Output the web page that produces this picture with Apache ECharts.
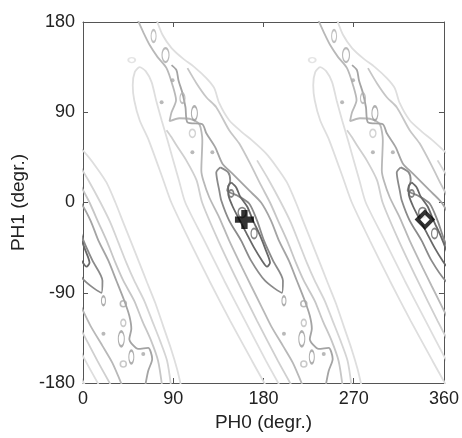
<!DOCTYPE html>
<html><head><meta charset="utf-8">
<script src="https://cdn.jsdelivr.net/npm/echarts/dist/echarts.min.js"></script>
<style>html,body{margin:0;padding:0;background:#fff}#c{width:462px;height:438px}</style>
</head><body><div id="c"></div>
<script>
// ---------- data (degrees) ----------
const xName = 'PH0 (degr.)';
const yName = 'PH1 (degr.)';
const xTicks = [0, 90, 180, 270, 360];
const yTicks = [-180, -90, 0, 90, 180];
// the surface repeats every 180 degrees along PH0: one valley is read, drawn at each repeat
const bandShifts = [-180, 0, 180];

const contourOuterLeft = [[182.5,-183],[168.6,-158],[146.8,-118],[126.0,-78],[106.1,-38],[88.1,0],[80.2,22],[65.6,62],[56.5,82],[51.1,102],[49.6,117],[51.6,130],[56.5,135],[62.5,131],[68.4,120],[72.9,102],[78.4,82],[84.3,62],[95.7,22],[102.0,0],[121.0,-38],[140.9,-78],[161.7,-118],[182.5,-158],[196.4,-183]];
const contourOuterRight = [[73.4,182],[79.4,167],[88.3,154],[99.2,144],[111.1,135],[123.0,124],[130.9,114],[135.9,99],[145.8,82],[158.7,70],[168.6,62],[182.5,49],[193.4,35],[203.4,20],[212.3,0],[220.2,-20],[228.2,-40],[236.1,-60],[244.0,-80],[252.0,-100],[259.9,-123],[267.8,-146],[273.8,-166],[277.8,-183]];
const contourSecondLeft = [[83.3,72],[88.3,65],[93.2,57],[103.0,42],[113.3,22],[118.8,0],[134.9,-38],[153.8,-78],[173.6,-118],[194.4,-158],[208.3,-183]];
const contourMidLeft = [[54.6,182],[60.5,169],[66.5,157],[74.4,145],[83.3,134],[89.3,117],[92.8,102],[88.3,90],[86.3,81],[96.2,84],[108.1,83],[116.1,78],[119.0,62],[118.0,32],[120.0,22],[126.0,5],[135.9,-15],[145.8,-38],[158.7,-65],[167.6,-83],[177.6,-103],[187.5,-123],[199.4,-143],[209.3,-160],[219.2,-183]];
const contourMidRight = [[88.3,137],[93.2,132],[95.2,122],[99.2,109],[102.2,95],[104.2,80],[119.0,78],[123.0,69],[131.9,55],[138.9,39],[148.8,29],[165.7,12],[177.6,0],[187.5,-18],[195.4,-38],[205.3,-58],[213.3,-78],[221.2,-98],[226.2,-113],[228.2,-126],[226.2,-136],[235.1,-146],[245.0,-145],[249.0,-156],[245.0,-168],[242.0,-183]];
const contourThirdRight = [[104.2,134],[113.1,119],[123.0,105],[132.9,95],[145.8,72],[155.7,59],[167.6,37],[177.6,17],[186.5,0],[195.4,-20],[204.4,-40],[212.3,-60],[220.2,-78],[231.1,-98],[239.1,-118],[248.0,-138],[254.9,-158],[258.9,-183]];
const contourSecondRight = [[173.6,42],[185.5,22],[197.4,0],[207.3,-20],[215.3,-40],[223.2,-60],[231.1,-78],[241.1,-98],[249.0,-118],[256.9,-138],[263.9,-158],[267.8,-183]];
const contourInner = [[136.9,35],[144.8,30],[146.8,22],[143.8,12],[153.8,7],[165.7,-1],[173.6,-18],[180.5,-38],[189.5,-58],[199.4,-78],[198.4,-90],[181.5,-78],[167.6,-58],[157.7,-38],[145.8,-18],[137.9,2],[135.9,12],[133.9,22],[132.9,30],[136.9,35]];
const contourCore = [[147.8,20],[152.8,15],[156.7,6],[163.7,-4],[169.6,-18],[176.6,-33],[182.5,-48],[186.5,-60],[183.5,-64],[178.6,-58],[170.6,-45],[162.7,-30],[154.8,-15],[148.8,-3],[144.8,9],[144.8,16],[147.8,20]];

const islandLoops = [[70.4,166],[82.3,147],[99.2,104],[111.1,89],[109.1,69],[48.6,142],[200.4,-98],[220.2,-101],[220.2,-120],[218.2,-136],[228.2,-154],[220.2,-161],[147.8,9],[158.7,-10],[170.6,-31]];
const islandDots = [[89.3,122],[78.4,100],[109.1,50],[129.0,50],[200.4,-131],[240.1,-151]];

const plusPoint = [161, -17];
const diamondPoint = [341, -17];

// ---------- styles ----------
const contourLines = [contourOuterLeft, contourOuterRight, contourSecondLeft, contourMidLeft, contourMidRight, contourThirdRight, contourSecondRight, contourInner, contourCore];
const contourColors = ['#dedede', '#dedede', '#cfcfcf', '#b8b8b8', '#a4a4a4', '#c6c6c6', '#d4d4d4', '#8a8a8a', '#686868'];
const islandSizes = [[5,12],[7,14],[5,10],[6,14],[6,8],[7,5],[4,9],[6,6],[5,7],[6,15],[5,13],[6,6],[5,7],[8,10],[6,10]];
const islandColors = ['#b0b0b0','#a8a8a8','#b0b0b0','#9a9a9a','#c8c8c8','#dddddd','#9a9a9a','#a8a8a8','#bcbcbc','#9a9a9a','#9a9a9a','#bcbcbc','#666666','#666666','#666666'];

const series = [];
bandShifts.forEach(function (s) {
  contourLines.forEach(function (pts, i) {
    series.push({
      type: 'line', xAxisIndex: 0, yAxisIndex: 0,
      data: pts.map(function (p) { return [p[0] + s, p[1]]; }),
      showSymbol: false, symbol: 'none', smooth: 0.25, clip: true, silent: true,
      lineStyle: { color: contourColors[i], width: 1.8 }, z: 2 + i * 0.1
    });
  });
  islandLoops.forEach(function (p, i) {
    series.push({
      type: 'scatter', xAxisIndex: 0, yAxisIndex: 0, silent: true, clip: true,
      data: [[p[0] + s, p[1]]], symbol: 'circle', symbolSize: islandSizes[i],
      itemStyle: { color: 'rgba(0,0,0,0)', borderColor: islandColors[i], borderWidth: 1.6 }, z: 3
    });
  });
  series.push({
    type: 'scatter', xAxisIndex: 0, yAxisIndex: 0, silent: true, clip: true,
    data: islandDots.map(function (p) { return [p[0] + s, p[1]]; }),
    symbol: 'circle', symbolSize: 4, itemStyle: { color: '#a8a8a8' }, z: 3
  });
});
series.push({
  type: 'scatter', data: [plusPoint], silent: true,
  symbol: 'path://M2,0H4V2H6V4H4V6H2V4H0V2H2Z', symbolSize: 19,
  itemStyle: { color: '#000' }, z: 10
});
series.push({
  type: 'scatter', data: [diamondPoint], silent: true,
  symbol: 'diamond', symbolSize: 15,
  itemStyle: { color: '#fff', borderColor: '#000', borderWidth: 4 }, z: 10
});

const axisColor = '#555';
const labelFont = { fontFamily: 'Liberation Sans, Arial, sans-serif', fontSize: 18, color: '#222' };
const chart = echarts.init(document.getElementById('c'), null, { renderer: 'canvas' });
chart.setOption({
  animation: false,
  backgroundColor: '#fff',
  grid: { left: 83, right: 16, top: 22, bottom: 55 },
  xAxis: [{
    type: 'value', min: xTicks[0], max: xTicks[xTicks.length - 1], interval: xTicks[1] - xTicks[0],
    name: xName, nameLocation: 'middle', nameGap: 28,
    nameTextStyle: { fontFamily: 'Liberation Sans, Arial, sans-serif', fontSize: 19, color: '#222' },
    axisLine: { onZero: false, lineStyle: { color: axisColor, width: 1 } },
    axisTick: { inside: true, length: 5, lineStyle: { color: axisColor } },
    axisLabel: Object.assign({ margin: 7 }, labelFont),
    splitLine: { show: false }
  }, {
    type: 'value', position: 'top', min: xTicks[0], max: xTicks[xTicks.length - 1], interval: xTicks[1] - xTicks[0],
    axisLine: { onZero: false, lineStyle: { color: axisColor, width: 1 } },
    axisTick: { inside: true, length: 5, lineStyle: { color: axisColor } },
    axisLabel: { show: false }, splitLine: { show: false }
  }],
  yAxis: [{
    type: 'value', min: yTicks[0], max: yTicks[yTicks.length - 1], interval: yTicks[1] - yTicks[0],
    name: yName, nameLocation: 'middle', nameGap: 55,
    nameTextStyle: { fontFamily: 'Liberation Sans, Arial, sans-serif', fontSize: 19, color: '#222' },
    axisLine: { onZero: false, lineStyle: { color: axisColor, width: 1 } },
    axisTick: { inside: true, length: 5, lineStyle: { color: axisColor } },
    axisLabel: Object.assign({ margin: 8 }, labelFont),
    splitLine: { show: false }
  }, {
    type: 'value', position: 'right', min: yTicks[0], max: yTicks[yTicks.length - 1], interval: yTicks[1] - yTicks[0],
    axisLine: { onZero: false, lineStyle: { color: axisColor, width: 1 } },
    axisTick: { inside: true, length: 5, lineStyle: { color: axisColor } },
    axisLabel: { show: false }, splitLine: { show: false }
  }],
  series: series
});
</script></body></html>
